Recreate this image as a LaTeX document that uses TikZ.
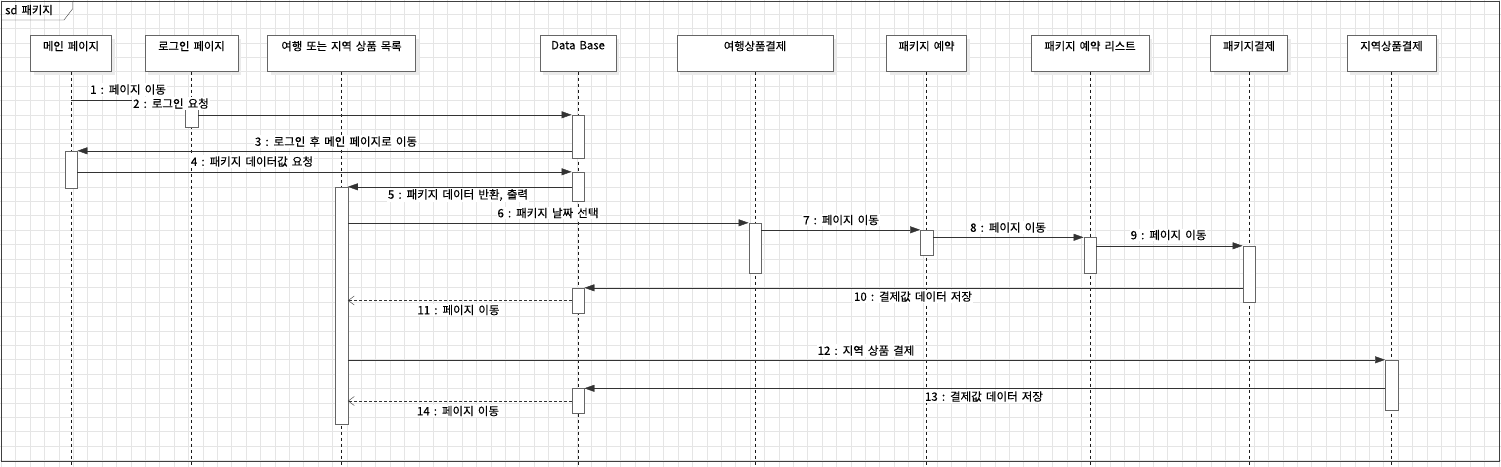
\documentclass[tikz,border=0pt]{standalone}
\usepackage{fontspec}
\setmainfont{Noto Sans CJK KR}[WordSpace=1.6,FakeBold=0.3]
\usetikzlibrary{arrows.meta,shadows}
\begin{document}
\begin{tikzpicture}[x=1pt,y=-1pt,
    head/.style={draw=black!60,fill=white,minimum height=36pt,inner sep=0pt,
      drop shadow={shadow xshift=3pt,shadow yshift=-3pt,fill=black!8,opacity=1}},
    htext/.style={anchor=north,inner sep=0pt,yshift=-5.5pt,font=\fontsize{11.3}{13}\selectfont},
    act/.style={draw=black!60,fill=white,minimum width=12.5pt,inner sep=0pt},
    life/.style={black!90,dash pattern=on 3pt off 3pt},
    msg/.style={black!80,-{Triangle[length=10pt,width=7pt]}},
    ret/.style={black!80,dash pattern=on 3pt off 2pt,-{Straight Barb[length=6pt,width=9pt]}},
    lbl/.style={fill=white,inner sep=1pt,font=\fontsize{11.5}{13}\selectfont}]
  \useasboundingbox (0,0) rectangle (1501,466);
  % grid and frame
  \begin{scope}[shift={(1.1,-0.5)}]
    \draw[black!10,step=14.4pt] (-2,-2) grid (1501,470);
  \end{scope}
  \draw[black!75,line width=1pt] (1,1) rectangle (1499,461);
  \draw[black!75] (1,20) -- (64,20) -- (72.5,9) -- (72.5,1);
  \node[anchor=west,inner sep=0pt,font=\fontsize{11.3}{13}\selectfont] (sd) at (5,10) {sd 패키지};
  \coordinate (bot) at (0,466);
  % lifeline heads
  \draw
    (71,53.5) node[head,minimum width=81pt,label={[htext]north:메인 페이지}] (mainP) {}
    (191.5,53.5) node[head,minimum width=93pt,label={[htext]north:로그인 페이지}] (loginP) {}
    (341.5,53.5) node[head,minimum width=148pt,label={[htext]north:여행 또는 지역 상품 목록}] (listP) {}
    (578,53.5) node[head,minimum width=75.5pt,label={[htext]north:Data Base}] (db) {}
    (755,53.5) node[head,minimum width=155.5pt,label={[htext]north:여행상품결제}] (tourPay) {}
    (926.5,53.5) node[head,minimum width=80pt,label={[htext]north:패키지 예약}] (pkgRes) {}
    (1090,53.5) node[head,minimum width=118.5pt,label={[htext]north:패키지 예약 리스트}] (pkgList) {}
    (1249,53.5) node[head,minimum width=77pt,label={[htext]north:패키지결제}] (pkgPay) {}
    (1391.5,53.5) node[head,minimum width=88.5pt,label={[htext]north:지역상품결제}] (regPay) {};
  % lifelines
  \begin{scope}[life]
    \draw (mainP.south) -- (mainP.south |- bot);
    \draw (loginP.south) -- (loginP.south |- bot);
    \draw (listP.south) -- (listP.south |- bot);
    \draw (db.south) -- (db.south |- bot);
    \draw (tourPay.south) -- (tourPay.south |- bot);
    \draw (pkgRes.south) -- (pkgRes.south |- bot);
    \draw (pkgList.south) -- (pkgList.south |- bot);
    \draw (pkgPay.south) -- (pkgPay.south |- bot);
    \draw (regPay.south) -- (regPay.south |- bot);
  \end{scope}
  % activations
  \draw
    (191.5,113.5) node[act,minimum height=27pt] (loginA) {}
    (578,136.5) node[act,minimum height=43pt] (dbA1) {}
    (578,186.5) node[act,minimum height=29pt] (dbA2) {}
    (578,300.5) node[act,minimum height=25pt] (dbA3) {}
    (578,401) node[act,minimum height=25pt] (dbA4) {}
    (71,169.5) node[act,minimum height=37pt] (mainA) {}
    (341.5,305.5) node[act,minimum height=237pt] (listA) {}
    (755,248) node[act,minimum height=50pt] (tourA) {}
    (926.5,242.5) node[act,minimum height=25pt] (resA) {}
    (1090,255.5) node[act,minimum height=36pt] (resListA) {}
    (1249,274) node[act,minimum height=56pt] (pkgPayA) {}
    (1391.5,385) node[act,minimum height=50pt] (regA) {};
  % messages
  \begin{scope}
    \draw[black!80] (mainP.center |- loginA.north west) -- (loginA.north west);
    \draw[msg] (loginA.east |- dbA1.north west) -- (dbA1.north west);
    \draw[msg] (dbA1.west |- mainA.north east) -- (mainA.north east);
    \draw[msg] (mainA.east |- dbA2.north west) -- (dbA2.north west);
    \draw[msg] (dbA2.west |- listA.north east) -- (listA.north east);
    \draw[msg] (listA.east |- tourA.north west) -- (tourA.north west);
    \draw[msg] (tourA.east |- resA.north west) -- (resA.north west);
    \draw[msg] (resA.east |- resListA.north west) -- (resListA.north west);
    \draw[msg] (resListA.east |- pkgPayA.north west) -- (pkgPayA.north west);
    \draw[msg] (pkgPayA.west |- dbA3.north east) -- (dbA3.north east);
    \draw[ret] (dbA3.west) -- (listA.east |- dbA3.west);
    \draw[msg] (listA.east |- regA.north west) -- (regA.north west);
    \draw[msg] (regA.west |- dbA4.north east) -- (dbA4.north east);
    \draw[ret] (dbA4.west) -- (listA.east |- dbA4.west);
  \end{scope}
  % message labels
  \draw
    (128,89.5) node[lbl] (l1) {1 : 페이지 이동}
    (171,103.5) node[lbl] (l2) {2 : 로그인 요청}
    (336,141.5) node[lbl] (l3) {3 : 로그인 후 메인 페이지로 이동}
    (252,161.5) node[lbl] (l4) {4 : 패키지 데이터값 요청}
    (458,195) node[lbl] (l5) {5 : 패키지 데이터 반환, 출력}
    (548,213) node[lbl] (l6) {6 : 패키지 날짜 선택}
    (841,220) node[lbl] (l7) {7 : 페이지 이동}
    (1008,227.5) node[lbl] (l8) {8 : 페이지 이동}
    (1168.5,235) node[lbl] (l9) {9 : 페이지 이동}
    (913,296.5) node[lbl] (l10) {10 : 결제값 데이터 저장}
    (458.5,310) node[lbl] (l11) {11 : 페이지 이동}
    (866,350.5) node[lbl] (l12) {12 : 지역 상품 결제}
    (984,396.5) node[lbl] (l13) {13 : 결제값 데이터 저장}
    (458,411) node[lbl] (l14) {14 : 페이지 이동};
\end{tikzpicture}
\end{document}
